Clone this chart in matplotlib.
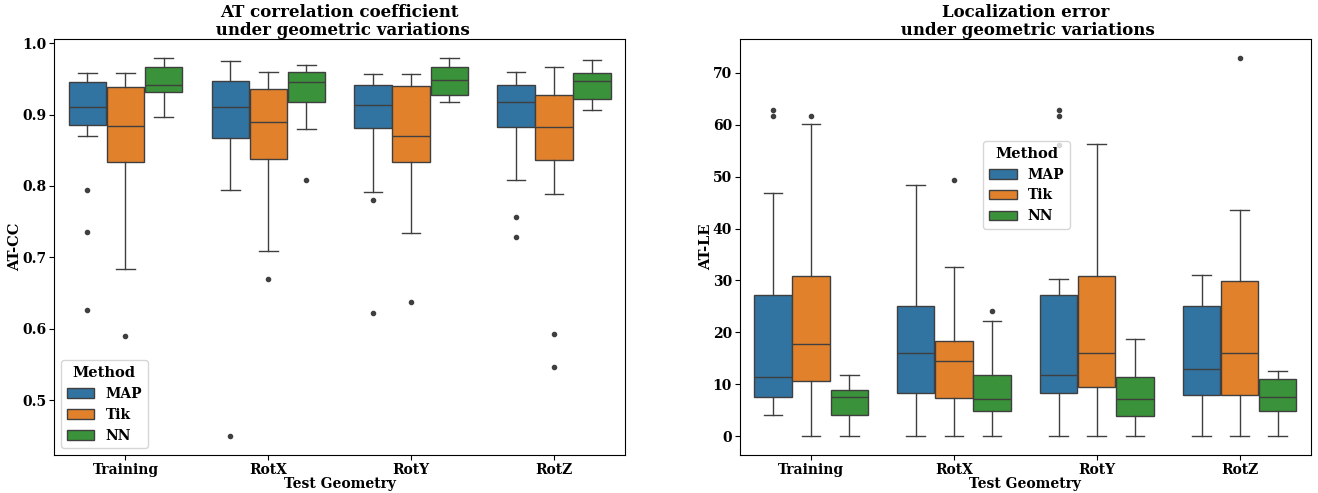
import matplotlib
matplotlib.use("Agg")
import matplotlib.pyplot as plt
from matplotlib.patches import Patch

plt.rcParams['font.family'] = ['DejaVu Serif']
plt.rcParams['font.weight'] = 'bold'
plt.rcParams['axes.labelweight'] = 'bold'
plt.rcParams['axes.titleweight'] = 'bold'

geometries = ["Training", "RotX", "RotY", "RotZ"]
methods = ["MAP", "Tik", "NN"]
colors = ["#3274a1", "#e1812c", "#3a923a"]

# AT-CC box stats, rows = method, cols = geometry
cc_whislo = [[0.870, 0.795, 0.792, 0.809],
             [0.683, 0.709, 0.734, 0.789],
             [0.896, 0.880, 0.918, 0.907]]
cc_q1 = [[0.886, 0.867, 0.881, 0.882],
         [0.834, 0.838, 0.834, 0.837],
         [0.932, 0.918, 0.927, 0.922]]
cc_med = [[0.910, 0.910, 0.913, 0.917],
          [0.884, 0.889, 0.870, 0.882],
          [0.942, 0.945, 0.948, 0.947]]
cc_q3 = [[0.945, 0.947, 0.942, 0.941],
         [0.939, 0.936, 0.940, 0.928],
         [0.967, 0.960, 0.967, 0.958]]
cc_whishi = [[0.958, 0.975, 0.957, 0.960],
             [0.958, 0.959, 0.957, 0.967],
             [0.979, 0.969, 0.979, 0.977]]
cc_fliers = [[[0.794, 0.735, 0.626], [0.450], [0.781, 0.622], [0.757, 0.728]],
             [[0.590], [0.669], [0.638], [0.592, 0.547]],
             [[], [0.808], [], []]]

# AT-LE box stats
le_whislo = [[4.05, 0, 0, 0],
             [0, 0, 0, 0],
             [0, 0, 0, 0]]
le_q1 = [[7.45, 8.4, 8.4, 8.0],
         [10.6, 7.4, 9.5, 8.0],
         [4.05, 4.9, 3.9, 4.8]]
le_med = [[11.3, 16.1, 11.8, 13.0],
          [17.7, 14.4, 16.1, 16.1],
          [7.6, 7.1, 7.1, 7.6]]
le_q3 = [[27.2, 25.1, 27.2, 25.1],
         [30.8, 18.4, 30.8, 29.9],
         [8.9, 11.8, 11.4, 11.1]]
le_whishi = [[46.9, 48.4, 30.2, 31.1],
             [60.2, 32.5, 56.3, 43.5],
             [11.8, 22.1, 18.7, 12.5]]
le_fliers = [[[62.8, 61.7], [], [62.8, 61.7, 56.1], []],
             [[61.7], [49.3], [], [72.9]],
             [[], [24.1], [], []]]


def draw_panel(ax, whislo, q1, med, q3, whishi, fliers):
    w = 0.8 / len(methods)
    gray = "#3f3f3f"
    for m in range(len(methods)):
        stats = []
        for g in range(len(geometries)):
            stats.append(dict(whislo=whislo[m][g], q1=q1[m][g], med=med[m][g],
                              q3=q3[m][g], whishi=whishi[m][g], fliers=fliers[m][g]))
        pos = [g + (m - 1) * w for g in range(len(geometries))]
        bp = ax.bxp(stats, positions=pos, widths=w * 0.98, patch_artist=True,
                    manage_ticks=False,
                    boxprops=dict(edgecolor=gray, linewidth=1.0),
                    medianprops=dict(color=gray, linewidth=1.0),
                    whiskerprops=dict(color=gray, linewidth=1.0),
                    capprops=dict(color=gray, linewidth=1.0),
                    flierprops=dict(marker="o", markersize=3, markerfacecolor=gray,
                                    markeredgecolor=gray, linestyle="none"))
        for b in bp["boxes"]:
            b.set_facecolor(colors[m])
    ax.set_xticks(range(len(geometries)))
    ax.set_xticklabels(geometries)
    ax.set_xlim(-0.5, len(geometries) - 0.5)
    ax.set_xlabel("Test Geometry", fontsize=10, labelpad=0)
    ax.tick_params(labelsize=10, pad=2)


handles = [Patch(facecolor=colors[i], edgecolor="#3f3f3f", label=methods[i])
           for i in range(len(methods))]

fig, (ax1, ax2) = plt.subplots(1, 2, figsize=(13.18, 4.93), dpi=100)
fig.subplots_adjust(left=0.041, right=0.9947, top=0.921, bottom=0.077, wspace=0.2)

draw_panel(ax1, cc_whislo, cc_q1, cc_med, cc_q3, cc_whishi, cc_fliers)
ax1.set_ylim(0.423, 1.006)
ax1.set_ylabel("AT-CC", fontsize=10.5, labelpad=0)
ax1.set_title("AT correlation coefficient\n under geometric variations", fontsize=12,
              linespacing=1.1, pad=2)
ax1.legend(handles=handles, title="Method", loc="lower left", fontsize=10,
           title_fontsize=10.5, handlelength=2.0)

draw_panel(ax2, le_whislo, le_q1, le_med, le_q3, le_whishi, le_fliers)
ax2.set_ylim(-3.65, 76.55)
ax2.set_ylabel("AT-LE", fontsize=10.5, labelpad=0)
ax2.set_title("Localization error\n under geometric variations", fontsize=12,
              linespacing=1.1, pad=2)
ax2.legend(handles=handles, title="Method", loc="center", bbox_to_anchor=(0.502, 0.649),
           fontsize=10, title_fontsize=10.5, handlelength=2.0)

fig.savefig("out.png", dpi=100)
